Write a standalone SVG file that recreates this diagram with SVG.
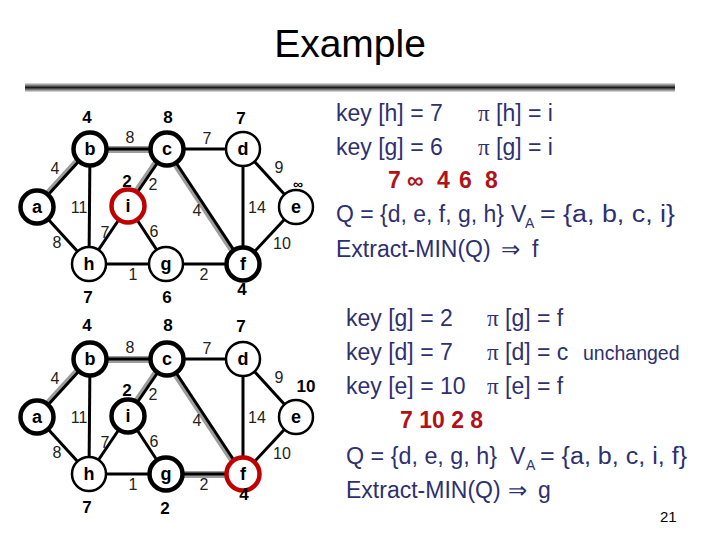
<svg xmlns="http://www.w3.org/2000/svg" width="720" height="540" viewBox="0 0 720 540">
<defs>
<linearGradient id="bar" x1="0" y1="0" x2="0" y2="1">
<stop offset="0" stop-color="#e6e6e6"/>
<stop offset="0.5" stop-color="#1a1a1a"/>
<stop offset="1" stop-color="#e6e6e6"/>
</linearGradient>
</defs>
<style>
.e{stroke:#000;stroke-width:3;fill:none}
.m{stroke:#9c9c9c;stroke-width:4;fill:none}
.mw{stroke:#9c9c9c;stroke-width:7;fill:none}
.n circle{fill:#fff;stroke:#000;stroke-width:2.5}
.n.t circle{stroke-width:4.5}
.n.r circle{stroke:#c00000;stroke-width:4.5}
.n text{font-family:"Liberation Sans",Arial,sans-serif;font-weight:bold;font-size:18px;text-anchor:middle;dominant-baseline:central;fill:#000}
.l{font-family:"Liberation Sans",Arial,sans-serif;font-size:16px;text-anchor:middle;dominant-baseline:central;fill:#222}
.k{font-family:"Liberation Sans",Arial,sans-serif;font-weight:bold;font-size:17px;text-anchor:middle;dominant-baseline:central;fill:#000}
.inf{font-size:14px}
.tx{font-family:"Liberation Sans",Arial,sans-serif;font-size:23px;fill:#2e3070}
.un{font-size:19.5px}
.pi{font-family:"Liberation Serif","Times New Roman",serif}
.rd{font-family:"Liberation Sans",Arial,sans-serif;font-weight:bold;font-size:23px;fill:#b0121b}
.sub{font-size:14px}
.ttl{font-family:"Liberation Sans",Arial,sans-serif;font-size:39px;text-anchor:middle;fill:#000}
.pg{font-family:"Liberation Sans",Arial,sans-serif;font-size:15px;fill:#000}
</style>
<rect x="0" y="0" width="720" height="540" fill="#fff"/>
<text class="ttl" x="350" y="57">Example</text>
<rect x="25" y="83" width="650" height="9" fill="url(#bar)"/>

<g id="edges-top">
<line class="m" x1="35.2" y1="205.3" x2="88.2" y2="147.3"/>
<line class="e" x1="37" y1="207" x2="90" y2="149"/>
<line class="mw" x1="90" y1="149.5" x2="167" y2="149.5"/>
<line class="e" x1="90" y1="149" x2="167" y2="149"/>
<line class="m" x1="164.9" y1="147.6" x2="125.9" y2="204.6"/>
<line class="e" x1="167" y1="149" x2="128" y2="206"/>
<line class="m" x1="164.9" y1="150.4" x2="240.9" y2="265.4"/>
<line class="e" x1="167" y1="149" x2="243" y2="264"/>
<line class="e" x1="167" y1="149" x2="243" y2="149"/>
<line class="e" x1="243" y1="149" x2="296" y2="207"/>
<line class="e" x1="243" y1="149" x2="243" y2="264"/>
<line class="e" x1="296" y1="207" x2="243" y2="264"/>
<line class="e" x1="37" y1="207" x2="89" y2="264"/>
<line class="e" x1="90" y1="149" x2="89" y2="264"/>
<line class="e" x1="89" y1="264" x2="128" y2="206"/>
<line class="e" x1="128" y1="206" x2="166" y2="264"/>
<line class="e" x1="89" y1="264" x2="166" y2="264"/>
<line class="e" x1="166" y1="264" x2="243" y2="264"/>
</g>
<g id="edges-bottom">
<line class="m" x1="35.2" y1="415.3" x2="88.2" y2="357.3"/>
<line class="e" x1="37" y1="417" x2="90" y2="359"/>
<line class="mw" x1="90" y1="359.5" x2="167" y2="359.5"/>
<line class="e" x1="90" y1="359" x2="167" y2="359"/>
<line class="m" x1="164.9" y1="357.6" x2="125.9" y2="414.6"/>
<line class="e" x1="167" y1="359" x2="128" y2="416"/>
<line class="m" x1="164.9" y1="360.4" x2="240.9" y2="475.4"/>
<line class="e" x1="167" y1="359" x2="243" y2="474"/>
<line class="e" x1="167" y1="359" x2="243" y2="359"/>
<line class="e" x1="243" y1="359" x2="296" y2="417"/>
<line class="e" x1="243" y1="359" x2="243" y2="474"/>
<line class="e" x1="296" y1="417" x2="243" y2="474"/>
<line class="e" x1="37" y1="417" x2="89" y2="474"/>
<line class="e" x1="90" y1="359" x2="89" y2="474"/>
<line class="e" x1="89" y1="474" x2="128" y2="416"/>
<line class="e" x1="128" y1="416" x2="166" y2="474"/>
<line class="e" x1="89" y1="474" x2="166" y2="474"/>
<line class="mw" x1="166" y1="474.5" x2="243" y2="474.5"/>
<line class="e" x1="166" y1="474" x2="243" y2="474"/>
</g>

<g id="top-a" class="n t"><circle cx="37" cy="207" r="16.5"/><text x="37" y="207">a</text></g>
<g id="top-b" class="n t"><circle cx="90" cy="149" r="16.5"/><text x="90" y="149">b</text></g>
<g id="top-c" class="n t"><circle cx="167" cy="149" r="16.5"/><text x="167" y="149">c</text></g>
<g id="top-d" class="n"><circle cx="243" cy="149" r="17"/><text x="243" y="149">d</text></g>
<g id="top-e" class="n"><circle cx="296" cy="207" r="17"/><text x="296" y="207">e</text></g>
<g id="top-i" class="n r"><circle cx="128" cy="206" r="16.5"/><text x="128" y="206">i</text></g>
<g id="top-h" class="n"><circle cx="89" cy="264" r="17"/><text x="89" y="264">h</text></g>
<g id="top-g" class="n"><circle cx="166" cy="264" r="17"/><text x="166" y="264">g</text></g>
<g id="top-f" class="n t"><circle cx="243" cy="264" r="16.5"/><text x="243" y="264">f</text></g>

<g id="bot-a" class="n t"><circle cx="37" cy="417" r="16.5"/><text x="37" y="417">a</text></g>
<g id="bot-b" class="n t"><circle cx="90" cy="359" r="16.5"/><text x="90" y="359">b</text></g>
<g id="bot-c" class="n t"><circle cx="167" cy="359" r="16.5"/><text x="167" y="359">c</text></g>
<g id="bot-d" class="n"><circle cx="243" cy="359" r="17"/><text x="243" y="359">d</text></g>
<g id="bot-e" class="n"><circle cx="296" cy="417" r="17"/><text x="296" y="417">e</text></g>
<g id="bot-i" class="n t"><circle cx="128" cy="416" r="16.5"/><text x="128" y="416">i</text></g>
<g id="bot-h" class="n"><circle cx="89" cy="474" r="17"/><text x="89" y="474">h</text></g>
<g id="bot-g" class="n t"><circle cx="166" cy="474" r="16.5"/><text x="166" y="474">g</text></g>
<g id="bot-f" class="n r"><circle cx="243" cy="474" r="16.5"/><text x="243" y="474">f</text></g>

<g id="labels-top">
<text class="l" x="55" y="168">4</text>
<text class="l" x="130" y="137">8</text>
<text class="l" x="207" y="138">7</text>
<text class="l" x="279" y="167">9</text>
<text class="l" x="79" y="207">11</text>
<text class="l" x="153" y="184">2</text>
<text class="l" x="197" y="210">4</text>
<text class="l" x="257" y="207">14</text>
<text class="l" x="105" y="232">7</text>
<text class="l" x="154" y="231">6</text>
<text class="l" x="57" y="242">8</text>
<text class="l" x="282" y="243">10</text>
<text class="l" x="133" y="274">1</text>
<text class="l" x="204" y="274">2</text>
<text class="k" x="87" y="117">4</text>
<text class="k" x="168" y="117">8</text>
<text class="k" x="241" y="118">7</text>
<text class="k" x="127" y="181">2</text>
<text class="k inf" x="298" y="184">∞</text>
<text class="k" x="88" y="297">7</text>
<text class="k" x="167" y="297">6</text>
<text class="k" x="242" y="289">4</text>
</g>
<g id="labels-bottom">
<text class="l" x="55" y="378">4</text>
<text class="l" x="130" y="347">8</text>
<text class="l" x="207" y="348">7</text>
<text class="l" x="279" y="377">9</text>
<text class="l" x="79" y="417">11</text>
<text class="l" x="153" y="394">2</text>
<text class="l" x="197" y="420">4</text>
<text class="l" x="257" y="417">14</text>
<text class="l" x="105" y="442">7</text>
<text class="l" x="154" y="441">6</text>
<text class="l" x="57" y="452">8</text>
<text class="l" x="282" y="453">10</text>
<text class="l" x="133" y="484">1</text>
<text class="l" x="204" y="484">2</text>
<text class="k" x="87" y="325">4</text>
<text class="k" x="168" y="325">8</text>
<text class="k" x="241" y="326">7</text>
<text class="k" x="127" y="390">2</text>
<text class="k" x="306" y="386">10</text>
<text class="k" x="87" y="507">7</text>
<text class="k" x="165" y="508">2</text>
<text class="k" x="244" y="494">4</text>
</g>

<g id="text-top">
<text class="tx" x="336" y="121">key [h] = 7</text>
<text class="tx" x="478" y="121"><tspan class="pi">π</tspan> [h] = i</text>
<text class="tx" x="336" y="155">key [g] = 6</text>
<text class="tx" x="478" y="155"><tspan class="pi">π</tspan> [g] = i</text>
<text class="rd" y="188"><tspan x="388">7</tspan><tspan x="407">∞</tspan><tspan x="437">4</tspan><tspan x="459">6</tspan><tspan x="485">8</tspan></text>
<text class="tx" x="336" y="222" textLength="168" lengthAdjust="spacingAndGlyphs">Q = {d, e, f, g, h}</text>
<text class="tx" x="511" y="222">V<tspan class="sub" x="525" dy="6">A</tspan></text>
<text class="tx" x="540" y="222" textLength="135" lengthAdjust="spacingAndGlyphs">= {a, b, c, i}</text>
<text class="tx" x="336" y="257">Extract-MIN(Q)</text>
<text class="tx pi" x="501" y="257">⇒</text>
<text class="tx" x="532" y="257">f</text>
</g>
<g id="text-bottom">
<text class="tx" x="346" y="326">key [g] = 2</text>
<text class="tx" x="487" y="326"><tspan class="pi">π</tspan> [g] = f</text>
<text class="tx" x="346" y="360">key [d] = 7</text>
<text class="tx" x="487" y="360"><tspan class="pi">π</tspan> [d] = c</text>
<text class="tx un" x="583" y="360">unchanged</text>
<text class="tx" x="346" y="394">key [e] = 10</text>
<text class="tx" x="487" y="394"><tspan class="pi">π</tspan> [e] = f</text>
<text class="rd" x="400" y="428">7 10 2 8</text>
<text class="tx" x="346" y="464" textLength="151" lengthAdjust="spacingAndGlyphs">Q = {d, e, g, h}</text>
<text class="tx" x="510" y="464">V<tspan class="sub" x="526" dy="6">A</tspan></text>
<text class="tx" x="540" y="464" textLength="147" lengthAdjust="spacingAndGlyphs">= {a, b, c, i, f}</text>
<text class="tx" x="346" y="498">Extract-MIN(Q)</text>
<text class="tx pi" x="508" y="498">⇒</text>
<text class="tx" x="538" y="498">g</text>
<text class="pg" x="660" y="522">21</text>
</g>
</svg>
